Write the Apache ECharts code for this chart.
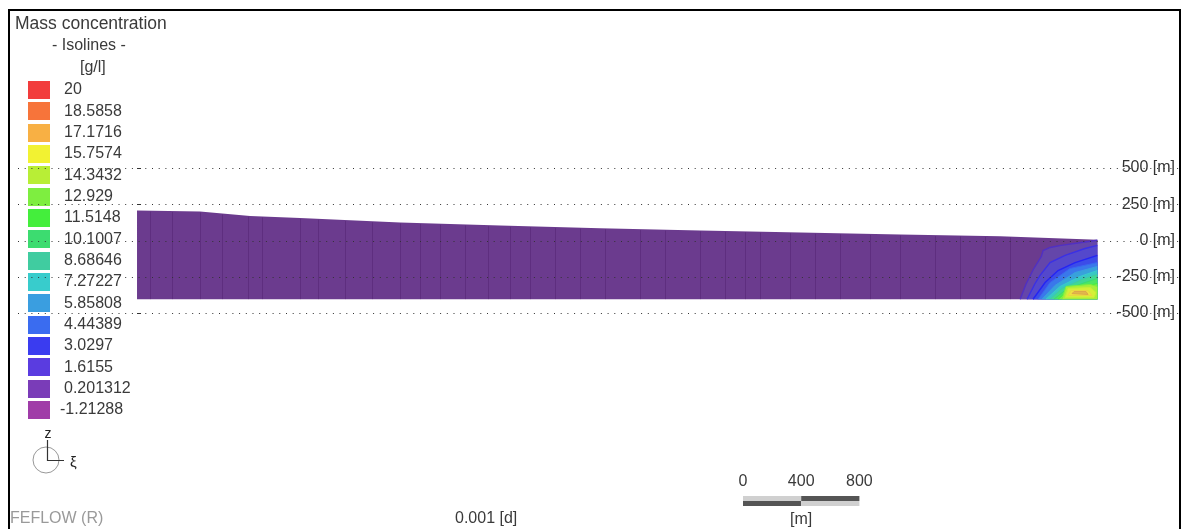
<!DOCTYPE html>
<html><head><meta charset="utf-8">
<script src="https://cdn.jsdelivr.net/npm/echarts@6/dist/echarts.min.js"></script>
<style>html,body{margin:0;padding:0;background:#fff;overflow:hidden}#c{width:1184px;height:529px}</style>
</head><body><div id="c"></div>
<script>
// ---- data ----
const legendLevels = ['20','18.5858','17.1716','15.7574','14.3432','12.929','11.5148','10.1007','8.68646','7.27227','5.85808','4.44389','3.0297','1.6155','0.201312','-1.21288'];
const legendColors = ['#f23c3c','#f7743a','#f8b044','#f2f232','#b8ee36','#7eee40','#44ee3c','#3cdc70','#40cca0','#38cccc','#3a9ee0','#3a6cf0','#3a3cf0','#5a3ce0','#7a3cb8','#a03ca8'];
const yTicks = [500, 250, 0, -250, -500];
const scaleBarTicks = [0, 400, 800];
// domain top surface (x [m], z [m]) and bottom
const topX = [0, 433, 777, 1120, 1808, 2495, 3182, 3869, 4557, 5244, 5931, 6600];
const topZ = [207, 200, 169, 155, 124, 103, 85, 69, 55, 41, 30, 5];
const bottomZ = -405;
const domainRight = 6600;
// mesh column positions (x [m])
const meshX = [89, 241, 433, 584, 763, 859, 1120, 1244, 1430, 1615, 1808, 1945, 2082, 2254, 2412, 2564, 2701, 2873, 3045, 3216, 3457, 3629, 3869, 4041, 4179, 4282, 4488, 4660, 4832, 5038, 5244, 5485, 5656, 5828, 6000];
// isoline contours (x [m], z [m]) of the plume at the right end
const iso0 = [[6069,-405],[6110,-300],[6160,-200],[6215,-110],[6227,-69],[6275,-48],[6350,-34],[6515,-10],[6600,2]];
const iso1 = [[6117,-405],[6170,-300],[6206,-241],[6275,-152],[6378,-103],[6515,-55],[6600,-34]];
const iso2 = [[6158,-405],[6241,-290],[6330,-207],[6447,-152],[6600,-103]];
const iso3 = [[6193,-405],[6275,-290],[6412,-193],[6600,-152]];
const iso4 = [[6220,-405],[6309,-310],[6447,-221],[6600,-179]];
const iso5 = [[6247,-405],[6344,-317],[6481,-248],[6600,-207]];
const iso6 = [[6275,-405],[6357,-331],[6495,-269],[6600,-234]];
const iso7 = [[6302,-405],[6385,-338],[6515,-290],[6600,-262]];
const iso8 = [[6330,-405],[6398,-345],[6536,-310],[6600,-297]];
const iso9 = [[6357,-405],[6385,-317],[6550,-303],[6600,-317]];
const iso10 = [[6378,-393],[6399,-331],[6550,-324],[6591,-359],[6577,-393]];
const iso11 = [[6399,-379],[6419,-345],[6536,-345],[6563,-379]];
const iso12 = [[6426,-366],[6440,-352],[6522,-352],[6536,-372]];
const isoList = [iso0, iso1, iso2, iso3, iso4, iso5, iso6, iso7, iso8, iso9, iso10, iso11, iso12];
const isoClosed = [false,false,false,false,false,false,false,false,false,false,true,true,true];
const bandFill = ['#6446aa','#5448cc','#3c4ce8','#3a78ea','#38a2da','#38c8c2','#40d894','#4ee662','#7cee42','#a8ee3a','#d4f038','#eee240','#e2b84c'];
const isoStroke = ['#5030c4','#3a30e6','#2424f4','#3a66f0','#3a9ee0','#38cccc','#40cca0','#3cdc70','#44ee3c','#7eee40','#c8ee36','#e8d840','#dca84a'];
const domainColor = '#6b3b8e';

// ---- chart ----
const chart = echarts.init(document.getElementById('c'), null, {renderer: 'canvas'});
const FONT = '"Liberation Sans", Arial, sans-serif';
const topAt = x => {
  for (let i = 1; i < topX.length; i++) if (x <= topX[i]) return topZ[i - 1] + (topZ[i] - topZ[i - 1]) * (x - topX[i - 1]) / (topX[i] - topX[i - 1]);
  return topZ[topZ.length - 1];
};
const series = [];
const domainPts = topX.map((x, i) => [x, topZ[i]]).concat([[domainRight, bottomZ], [0, bottomZ]]);
series.push({
  type: 'custom', coordinateSystem: 'cartesian2d', silent: true, z: 2,
  data: [[0, 0]],
  renderItem: (p, api) => ({type: 'polygon', shape: {points: domainPts.map(q => api.coord(q))}, style: {fill: domainColor, stroke: null}})
});
series.push({
  type: 'custom', coordinateSystem: 'cartesian2d', silent: true, z: 2,
  data: meshX.map(x => [x, 0]),
  renderItem: (p, api) => {
    const x = api.value(0);
    const a = api.coord([x, bottomZ]), b = api.coord([x, topAt(x)]);
    const px = Math.round(a[0]) + 0.5;
    return {type: 'line', shape: {x1: px, y1: a[1], x2: px, y2: b[1] + 1}, style: {stroke: 'rgba(60,15,90,0.28)', lineWidth: 1}};
  }
});
isoList.forEach((line, i) => {
  const poly = isoClosed[i] ? line : line.concat([[domainRight, bottomZ]]);
  series.push({
    type: 'custom', coordinateSystem: 'cartesian2d', silent: true, z: 2,
    data: [[line[0][0], line[0][1]]],
    renderItem: (p, api) => ({
      type: 'group',
      children: [
        {type: 'polygon', shape: {points: poly.map(q => api.coord(q))}, style: {fill: bandFill[i], stroke: null}},
        {type: isoClosed[i] ? 'polygon' : 'polyline', shape: {points: line.map(q => api.coord(q))}, style: {fill: isoClosed[i] ? 'none' : null, stroke: isoStroke[i], lineWidth: i < 3 ? 1.4 : 1}}
      ]
    })
  });
});
// dotted horizontal reference lines at tick values, drawn over the section
series.push({
  type: 'custom', coordinateSystem: 'cartesian2d', silent: true, z: 5,
  data: yTicks.map(v => [0, v]),
  renderItem: (p, api) => {
    const cs = p.coordSys;
    const y = Math.round(api.coord([0, api.value(1)])[1]) + 0.5;
    return {type: 'line', shape: {x1: cs.x, y1: y, x2: cs.x + cs.width, y2: y}, style: {stroke: '#333', lineWidth: 1, lineDash: [1, 5.7]}};
  }
});

chart.setOption({
  animation: false,
  backgroundColor: '#fff',
  grid: {left: 18, right: 4, top: 168, height: 145},
  xAxis: {type: 'value', min: -818, max: 7168, show: false},
  yAxis: {
    type: 'value', min: -500, max: 500, interval: 250, position: 'right',
    axisLine: {show: false},
    axisTick: {show: true, length: 4, lineStyle: {color: '#333'}},
    axisLabel: {inside: true, margin: 5, fontSize: 16, fontFamily: FONT, color: '#333', formatter: v => v + ' [m]'},
    splitLine: {show: false}
  },
  series: series
});

// ---- overlay (legend, frame, compass, scale bar, texts) ----
const g = [];
const txt = (text, x, y, opt) => g.push(Object.assign({type: 'text', silent: true, z: 10, style: Object.assign({text, x, y, font: '16px ' + FONT, fill: '#3a3a3a', textVerticalAlign: 'middle', textAlign: 'left'}, opt || {})}));
// frame
g.push({type: 'rect', silent: true, z: 20, shape: {x: 8, y: 9, width: 1173, height: 2}, style: {fill: '#000'}});
g.push({type: 'rect', silent: true, z: 20, shape: {x: 8, y: 9, width: 2, height: 520}, style: {fill: '#000'}});
g.push({type: 'rect', silent: true, z: 20, shape: {x: 1179, y: 9, width: 2, height: 520}, style: {fill: '#000'}});
// legend
txt('Mass concentration', 15, 24, {font: '17.5px ' + FONT});
txt('- Isolines -', 52, 46);
txt('[g/l]', 80, 68);
legendLevels.forEach((lv, i) => {
  const cy = 90 + i * 21.33;
  g.push({type: 'rect', silent: true, z: 3, shape: {x: 28, y: Math.round(cy - 9), width: 22, height: 18}, style: {fill: legendColors[i]}});
  txt(lv, lv[0] === '-' ? 60 : 64, cy);
});
// compass
g.push({type: 'circle', silent: true, z: 10, shape: {cx: 46, cy: 460, r: 13}, style: {fill: 'none', stroke: '#999', lineWidth: 1}});
g.push({type: 'polyline', silent: true, z: 11, shape: {points: [[47.5, 440], [47.5, 460.5], [64, 460.5]]}, style: {stroke: '#333', lineWidth: 1.2, fill: null}});
txt('z', 48, 434, {font: '14px ' + FONT, textAlign: 'center', fill: '#222'});
txt('ξ', 70, 463, {font: '15px ' + FONT, fill: '#222'});
// bottom texts
txt('FEFLOW (R)', 10, 519, {fill: '#9a9a9a'});
txt('0.001 [d]', 455, 519);
// scale bar from x-axis scale
const x0 = 743;
const px0 = chart.convertToPixel({xAxisIndex: 0}, 0);
const pxs = scaleBarTicks.map(v => x0 + chart.convertToPixel({xAxisIndex: 0}, v) - px0);
scaleBarTicks.forEach((v, i) => txt(String(v), pxs[i], 482, {textAlign: 'center'}));
for (let i = 0; i < pxs.length - 1; i++) {
  const w = pxs[i + 1] - pxs[i];
  g.push({type: 'rect', silent: true, z: 10, shape: {x: pxs[i], y: 496, width: w, height: 5}, style: {fill: i % 2 ? '#555' : '#d0d0d0'}});
  g.push({type: 'rect', silent: true, z: 10, shape: {x: pxs[i], y: 501, width: w, height: 5}, style: {fill: i % 2 ? '#d0d0d0' : '#555'}});
}
txt('[m]', (pxs[0] + pxs[pxs.length - 1]) / 2, 520, {textAlign: 'center'});
chart.setOption({graphic: g});
</script></body></html>
